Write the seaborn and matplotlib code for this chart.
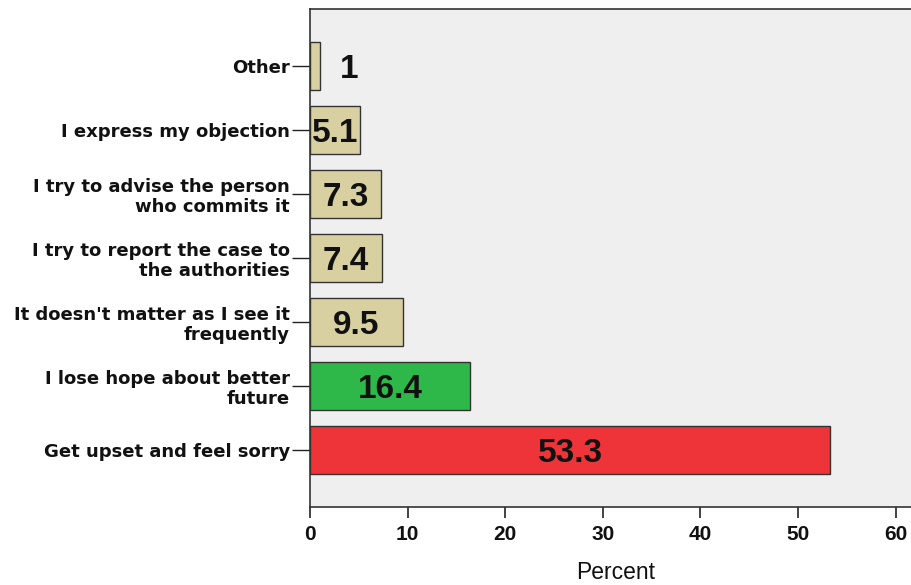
import numpy as np
import pandas as pd
import matplotlib
matplotlib.use("Agg")
import matplotlib.pyplot as plt
import seaborn as sns

# ------------- Data -------------
categories = [
    "Other",
    "I express my objection",
    "I try to advise the person\nwho commits it",
    "I try to report the case to\nthe authorities",
    "It doesn't matter as I see it\nfrequently",
    "I lose hope about better\nfuture",
    "Get upset and feel sorry",
]
percent = [1.0, 5.1, 7.3, 7.4, 9.5, 16.4, 53.3]
labels = ["1", "5.1", "7.3", "7.4", "9.5", "16.4", "53.3"]
bar_colors = ["#d8d0a0", "#d8d0a0", "#d8d0a0", "#d8d0a0", "#d8d0a0", "#2fb84a", "#ee3439"]

df = pd.DataFrame({"Response": categories, "Percent": percent})

# ------------- Plot -------------
sns.set_style("white")
plt.rcParams["font.family"] = ["DejaVu Sans"]

fig = plt.figure(figsize=(9.12, 5.85), dpi=100)
ax = fig.add_axes([310 / 912, 1 - 507 / 585, 612 / 912, 498 / 585])
ax.set_facecolor("#efefef")

sns.barplot(data=df, x="Percent", y="Response", hue="Response",
            palette=bar_colors, saturation=1, orient="h", width=0.75, legend=False,
            edgecolor="#333333", linewidth=1.0, ax=ax)

ax.set_xlim(0, 62.7)
ax.set_ylim(6.89, -0.89)
ax.set_xticks([0, 10, 20, 30, 40, 50, 60])
ax.set_xlabel("Percent", fontsize=16.5, labelpad=12, family="Liberation Sans", color="#111111")
ax.set_ylabel("")

for lab in ax.get_xticklabels():
    lab.set_family("Liberation Sans")
    lab.set_fontweight("bold")
    lab.set_fontsize(15)
    lab.set_color("#111111")
for lab in ax.get_yticklabels():
    lab.set_fontweight("bold")
    lab.set_fontsize(13)
    lab.set_linespacing(1.15)
    lab.set_color("#111111")

ax.tick_params(axis="x", bottom=True, direction="out", length=8, width=1.2, color="#222222", pad=5)
ax.tick_params(axis="y", left=True, direction="out", length=13, width=1.0, color="#222222", pad=1.5)

for sp in ["left", "bottom", "top"]:
    ax.spines[sp].set_visible(True)
    ax.spines[sp].set_color("#333333")
    ax.spines[sp].set_linewidth(1.2)
ax.spines["right"].set_visible(False)

# value labels
for i, (v, t) in enumerate(zip(percent, labels)):
    xpos = v + 3 if v < 3 else v / 2
    ax.text(xpos, i + 0.05, t, ha="center", va="center", fontsize=24,
            fontweight="bold", family="Liberation Sans", color="#111111")

fig.savefig("out.png", dpi=100)
